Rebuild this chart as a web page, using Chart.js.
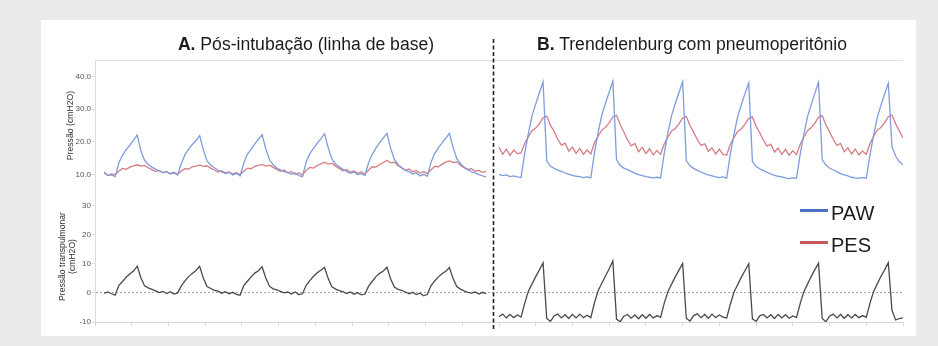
<!DOCTYPE html>
<html>
<head>
<meta charset="utf-8">
<script src="https://cdn.jsdelivr.net/npm/chart.js@4"></script>
<style>
  html, body { margin: 0; padding: 0; }
  body { width: 938px; height: 346px; background: #ebebeb; position: relative; overflow: hidden;
         font-family: "Liberation Sans", Arial, sans-serif; color: #1c1c1c; }
  #panel { position: absolute; left: 41px; top: 20px; width: 875px; height: 316px; background: #fff; }
  #ventChart { position: absolute; left: 0; top: 0; }
  .title { position: absolute; top: 34px; width: 420px; text-align: center; font-size: 17.6px; line-height: 20px; white-space: nowrap; }
  .title b { font-weight: bold; }
  .legend { position: absolute; left: 800px; top: 197px; font-size: 20px; }
  .legend div { display: flex; align-items: center; height: 32px; }
  .legend span { display: inline-block; width: 28px; height: 3px; margin-right: 3px; position: relative; top: -3px; }
</style>
</head>
<body>
<div id="panel"></div>
<canvas id="ventChart" width="938" height="346"></canvas>
<div class="title" style="left:96px"><b>A.</b> Pós-intubação (linha de base)</div>
<div class="title" style="left:482px"><b>B.</b> Trendelenburg com pneumoperitônio</div>
<div class="legend">
  <div><span style="background:#4a72c6"></span>PAW</div>
  <div><span style="background:#c4575c"></span>PES</div>
</div>
<script>
// time axis (seconds-ish units), samples every 0.1
const sampleStep = 0.1;
const startA = -0.4;
const startB = 10.35;
const dividerAt = 10.18;

const presTicks = [10, 20, 30, 40];
const transTicks = [-10, 0, 10, 20, 30];

// A: pós-intubação
const pawA = [
  10.8, 9.7, 9.9, 9.4,
  13.6, 15.9, 17.6, 19.0, 20.5, 22.1, 17.2, 14.4, 13.1, 12.3, 11.7, 11.1, 10.6, 10.9, 10.2, 10.5, 9.9,
  13.4, 16.1, 17.8, 19.2, 20.4, 21.9, 17.6, 14.2, 12.9, 12.1, 11.4, 10.8, 10.3, 10.7, 9.9, 10.4, 9.6,
  13.5, 16.3, 17.7, 19.4, 20.8, 22.2, 17.9, 14.6, 13.0, 12.0, 11.5, 10.9, 10.6, 10.1, 10.5, 9.7, 9.4,
  13.9, 16.4, 18.0, 19.6, 21.0, 22.5, 18.2, 14.8, 13.2, 12.4, 11.6, 11.0, 10.4, 10.8, 10.0, 10.3, 9.8,
  13.7, 16.2, 18.1, 19.8, 21.2, 22.6, 18.0, 14.7, 13.1, 12.2, 11.3, 10.9, 10.2, 10.6, 9.6, 10.1, 9.5,
  13.8, 16.5, 18.2, 19.7, 21.1, 22.6, 18.3, 14.9, 13.4, 12.3, 11.6, 10.8, 10.5, 10.0, 9.6, 9.3
];
const pesA = [
  10.5, 9.8, 10.2, 10.0,
  11.0, 11.9, 11.6, 12.3, 12.7, 13.0, 12.6, 12.8, 12.1, 11.5, 11.0, 11.3, 10.6, 10.9, 10.3, 10.7, 10.1,
  11.1, 11.8, 11.7, 12.4, 12.6, 12.9, 12.5, 12.7, 12.0, 11.4, 10.8, 11.2, 10.5, 10.8, 10.2, 10.6, 10.0,
  11.0, 12.0, 11.8, 12.5, 12.8, 13.1, 12.6, 12.9, 12.2, 11.6, 11.0, 11.4, 10.6, 10.9, 10.1, 10.5, 9.9,
  11.3, 12.2, 12.0, 12.8, 13.3, 13.8, 13.2, 13.5, 12.6, 11.9, 11.2, 11.6, 10.8, 11.1, 10.4, 10.8, 10.2,
  11.4, 12.4, 12.3, 13.1, 13.7, 14.3, 13.6, 13.8, 12.8, 12.0, 11.3, 11.7, 10.9, 11.2, 10.5, 10.9, 10.3,
  11.5, 12.5, 12.4, 13.2, 13.8, 14.2, 13.7, 13.9, 12.9, 12.1, 11.5, 11.8, 11.0, 11.3, 10.7, 11.0
];
const ptpA = [
  -0.2, 0.3, -0.3, -0.8,
  2.6, 3.9, 5.4, 6.6, 7.5, 9.2, 5.2, 2.4, 1.7, 1.2, 0.7, 0.1, 0.5, -0.2, 0.4, -0.4, 0.0,
  2.4, 4.1, 5.6, 6.7, 7.7, 9.1, 5.0, 2.2, 1.5, 0.9, 0.6, -0.1, 0.4, -0.3, 0.2, -0.5, -0.8,
  2.5, 4.0, 5.5, 6.8, 7.6, 9.0, 5.1, 2.3, 1.4, 1.0, 0.5, 0.0, 0.3, -0.4, 0.3, -0.6, -0.3,
  2.6, 4.2, 5.7, 6.9, 7.8, 8.8, 4.9, 2.1, 1.3, 0.8, 0.4, -0.2, 0.3, -0.5, 0.1, -0.7, -0.4,
  2.3, 4.0, 5.6, 6.7, 7.5, 8.8, 4.8, 2.0, 1.2, 0.9, 0.3, -0.3, 0.2, -0.6, -0.1, -1.0, -0.5,
  2.5, 4.1, 5.5, 6.6, 7.4, 8.7, 4.9, 2.2, 1.3, 0.7, 0.2, -0.1, 0.3, -0.4, 0.2, -0.3
];

// B: Trendelenburg com pneumoperitônio
const pawB = [
  10.1, 9.7, 9.9, 9.4, 9.6, 9.3,
  9.1, 16.5, 22.5, 28.0, 31.6, 35.0, 38.3, 14.2, 12.6, 11.9, 11.4, 11.0, 10.5, 10.1, 9.8, 9.5, 9.4, 9.1, 9.3,
  9.0, 16.8, 23.0, 28.2, 31.8, 35.2, 38.5, 14.5, 12.8, 12.0, 11.5, 11.0, 10.4, 10.0, 9.7, 9.4, 9.2, 9.0, 9.2,
  9.0, 16.6, 22.8, 28.1, 31.7, 35.1, 38.4, 14.3, 12.7, 11.9, 11.3, 10.8, 10.3, 9.9, 9.6, 9.3, 9.1, 9.3,
  8.9, 16.4, 22.4, 27.8, 31.4, 34.8, 38.0, 14.0, 12.5, 11.8, 11.2, 10.7, 10.2, 9.8, 9.5, 9.3, 9.0, 8.8, 9.0,
  8.9, 16.2, 22.2, 27.7, 31.3, 34.9, 38.2, 14.6, 12.9, 12.0, 11.4, 10.9, 10.3, 9.9, 9.6, 9.2, 9.0, 8.9, 9.1,
  8.9, 16.0, 22.0, 27.5, 31.2, 34.6, 37.9, 18.5, 15.6, 14.0, 13.0
];
const pesB = [
  18.4, 16.2, 17.8, 15.9, 17.5, 16.4,
  16.6, 19.5, 21.6, 23.4, 24.2, 25.6, 27.4, 27.9, 25.1, 23.2, 20.8, 19.0, 19.6, 17.2, 18.4, 16.5, 18.0, 16.2, 17.5,
  16.3, 19.7, 21.8, 23.6, 24.5, 25.8, 27.6, 28.1, 25.3, 23.0, 20.6, 18.8, 19.5, 17.0, 18.3, 16.4, 17.9, 16.0, 17.4,
  16.2, 19.4, 21.5, 23.3, 24.1, 25.5, 27.3, 27.8, 25.0, 22.9, 20.7, 18.9, 19.4, 17.1, 18.2, 16.3, 17.8, 16.1,
  16.0, 19.3, 21.4, 23.2, 24.0, 25.4, 27.1, 27.6, 24.8, 22.8, 20.5, 18.7, 19.3, 16.9, 18.1, 16.2, 17.7, 15.9, 17.3,
  16.1, 19.2, 21.5, 23.4, 24.3, 25.7, 27.5, 28.0, 25.2, 23.1, 20.8, 18.9, 19.5, 17.0, 18.2, 16.3, 17.8, 16.0, 17.2,
  16.2, 19.4, 21.7, 23.6, 24.4, 25.9, 27.7, 28.2, 25.5, 23.3, 21.2
];
const ptpB = [
  -8.2, -7.3, -8.6, -7.4, -8.5, -7.6,
  -8.3, -3.6, 0.6, 3.1, 5.6, 7.9, 10.3, -8.8, -9.8, -7.9, -7.3, -8.6, -7.5, -8.8, -7.4, -8.6, -7.3, -8.5, -7.7,
  -8.5, -3.4, 0.8, 3.3, 5.8, 8.3, 11.0, -9.0, -9.9, -8.0, -7.4, -8.7, -7.6, -8.9, -7.5, -8.7, -7.4, -8.6, -7.8,
  -8.4, -3.5, 0.5, 3.0, 5.5, 7.8, 10.1, -8.7, -9.7, -7.8, -7.2, -8.5, -7.4, -8.7, -7.3, -8.5, -7.6, -8.3,
  -8.6, -3.8, 0.3, 2.9, 5.4, 7.7, 10.0, -8.9, -9.8, -7.9, -7.4, -8.6, -7.5, -8.8, -7.4, -8.6, -7.5, -8.7, -7.9,
  -8.5, -3.7, 0.4, 3.0, 5.6, 8.0, 10.2, -8.8, -9.9, -8.0, -7.3, -8.6, -7.4, -8.7, -7.5, -8.6, -7.4, -8.5, -7.8,
  -8.4, -3.6, 0.5, 3.1, 5.7, 7.9, 10.4, -6.0, -9.3, -8.8, -8.6
];

const pawColor = "#7f9cdc";
const pesColor = "#d57c84";
const ptpColor = "#4a4a4a";
const fontFamily = "'Liberation Sans', Arial, sans-serif";

function toPoints(start, values) {
  return values.map((v, i) => ({ x: start + i * sampleStep, y: v }));
}

function series(values, start, color, axis) {
  return {
    data: toPoints(start, values),
    borderColor: color,
    borderWidth: 1.3,
    yAxisID: axis,
    pointRadius: 0,
    tension: 0,
    fill: false
  };
}

// dashed separator between A and B + thin frame line on top
const panelDivider = {
  id: "panelDivider",
  beforeDatasetsDraw(chart) {
    const { ctx, chartArea } = chart;
    ctx.save();
    ctx.strokeStyle = "#e0e0e0";
    ctx.lineWidth = 1;
    ctx.beginPath();
    ctx.moveTo(chartArea.left, chartArea.top + 0.5);
    ctx.lineTo(chartArea.right, chartArea.top + 0.5);
    ctx.stroke();
    ctx.restore();
  },
  afterDraw(chart) {
    const { ctx, chartArea, scales } = chart;
    const x = Math.round(scales.x.getPixelForValue(dividerAt)) + 0.5;
    ctx.save();
    ctx.strokeStyle = "#1e1e1e";
    ctx.lineWidth = 1.6;
    ctx.setLineDash([4, 2.5]);
    ctx.beginPath();
    ctx.moveTo(x, chartArea.top - 21);
    ctx.lineTo(x, chartArea.bottom + 8);
    ctx.stroke();
    ctx.restore();
  }
};

document.addEventListener("DOMContentLoaded", function () {
  const ctx = document.getElementById("ventChart").getContext("2d");

  new Chart(ctx, {
    type: "line",
    data: {
      datasets: [
        series(pawA, startA, pawColor, "yPres"),
        series(pesA, startA, pesColor, "yPres"),
        series(pawB, startB, pawColor, "yPres"),
        series(pesB, startB, pesColor, "yPres"),
        series(ptpA, startA, ptpColor, "yTrans"),
        series(ptpB, startB, ptpColor, "yTrans")
      ]
    },
    options: {
      responsive: false,
      animation: false,
      layout: { padding: { left: 41, right: 35, top: 60, bottom: 14 } },
      plugins: { legend: { display: false }, tooltip: { enabled: false } },
      scales: {
        x: {
          type: "linear",
          min: -0.65,
          max: 21.35,
          ticks: { display: false, stepSize: 1, includeBounds: false },
          grid: { drawOnChartArea: false, tickLength: 4, color: "#d8d8d8" },
          border: { color: "#d8d8d8" },
          afterFit: s => { s.height = 10; }
        },
        yTrans: {
          type: "linear",
          position: "left",
          stack: "painel",
          stackWeight: 1,
          min: -10,
          max: 35,
          afterBuildTicks: s => { s.ticks = transTicks.map(v => ({ value: v })); },
          ticks: { callback: v => String(v), color: "#555", padding: 1, font: { family: fontFamily, size: 8 } },
          grid: {
            color: c => (c.tick && c.tick.value === 0 ? "#a8a8a8" : "rgba(0,0,0,0)"),
            tickColor: "#dcdcdc",
            tickLength: 3
          },
          border: { color: "#dcdcdc", dash: [2, 2] },
          title: {
            display: true,
            text: ["Pressão transpulmonar", "(cmH2O)"],
            color: "#333",
            padding: { top: 16, bottom: 0 },
            font: { family: fontFamily, size: 8.6 }
          },
          afterFit: s => { s.width = 54; }
        },
        yPres: {
          type: "linear",
          position: "left",
          stack: "painel",
          stackWeight: 1,
          min: 5,
          max: 45,
          afterBuildTicks: s => { s.ticks = presTicks.map(v => ({ value: v })); },
          ticks: { callback: v => v.toFixed(1), color: "#555", padding: 1, font: { family: fontFamily, size: 8 } },
          grid: { drawOnChartArea: false, tickColor: "#dcdcdc", color: "#dcdcdc", tickLength: 3 },
          border: { color: "#dcdcdc" },
          title: {
            display: true,
            text: "Pressão (cmH2O)",
            color: "#333",
            padding: { top: 24.5, bottom: 0 },
            font: { family: fontFamily, size: 8.7 }
          },
          afterFit: s => { s.width = 54; }
        }
      }
    },
    plugins: [panelDivider]
  });
});
</script>
</body>
</html>
